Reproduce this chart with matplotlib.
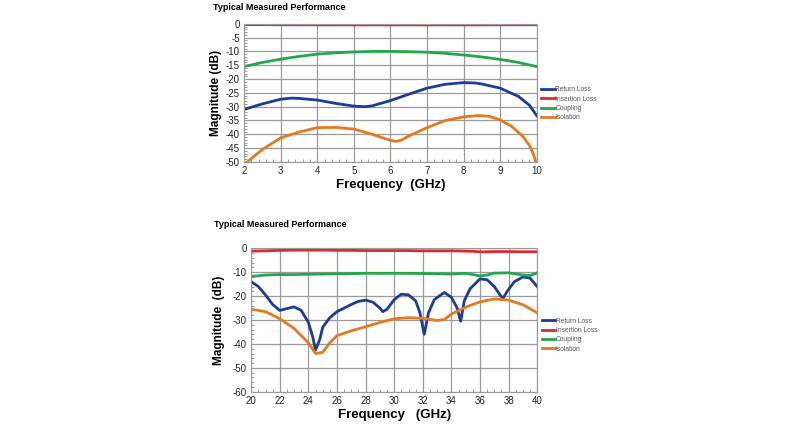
import matplotlib
matplotlib.use("Agg")
import matplotlib.pyplot as plt
from matplotlib.ticker import MultipleLocator

plt.rcParams['font.family'] = ['Liberation Sans', 'DejaVu Sans']
plt.rcParams['axes.unicode_minus'] = False

# ---------- Top chart data (2-10 GHz) ----------
f1 = [2, 2.5, 3, 3.3, 3.5, 4, 4.5, 5, 5.3, 5.5, 6, 6.5, 7, 7.5, 8, 8.3, 8.5, 9, 9.5, 9.8, 10]
rl1 = [-31, -29, -27.3, -26.9, -27, -27.6, -28.8, -29.8, -30, -29.7, -27.8, -25.5, -23.3, -21.9, -21.3, -21.4, -21.8, -23.3, -26.3, -29.5, -33.3]
f1b = [2, 2.5, 3, 3.5, 4, 4.5, 5, 5.5, 6, 6.5, 7, 7.5, 8, 8.5, 9, 9.5, 10]
il1 = [-0.3, -0.3, -0.35, -0.35, -0.4, -0.4, -0.4, -0.4, -0.4, -0.4, -0.4, -0.4, -0.4, -0.4, -0.35, -0.35, -0.35]
cp1 = [-15.5, -14, -12.8, -11.8, -11, -10.5, -10.2, -10, -10, -10.1, -10.3, -10.7, -11.3, -12, -12.9, -14, -15.5]
f1c = [2, 2.5, 3, 3.5, 4, 4.5, 5, 5.5, 6, 6.15, 6.3, 6.5, 7, 7.5, 8, 8.4, 8.7, 9, 9.3, 9.6, 9.8, 9.9, 10]
iso1 = [-51, -45.5, -41.3, -39.2, -37.6, -37.5, -38.1, -40, -42.2, -42.6, -42.1, -40.6, -37.6, -35, -33.7, -33.2, -33.5, -34.8, -37, -40.5, -44, -47, -51]

# ---------- Bottom chart data (20-40 GHz) ----------
f2 = [20, 20.5, 21, 21.5, 22, 22.5, 23, 23.5, 24, 24.3, 24.5, 24.8, 25, 25.5, 26, 26.5, 27, 27.5, 28,
      28.5, 29, 29.2, 29.5, 30, 30.5, 31, 31.5, 31.8, 32.1, 32.4, 32.8, 33.5, 34, 34.4, 34.65, 34.9,
      35.3, 36, 36.5, 37, 37.4, 37.6, 37.9, 38.4, 39, 39.5, 40]
rl2 = [-14, -16, -19.5, -23.5, -26, -25.2, -24.5, -26, -31, -37, -42.5, -38, -33, -29, -26.5, -25, -23.5, -22.2, -21.7,
       -22.5, -25, -26.5, -25.5, -21.5, -19.2, -19.5, -22, -27, -36, -27, -21.5, -18.5, -20.5, -25, -30.5, -22,
       -17, -12.8, -13.2, -16, -19.5, -21, -18, -14, -12, -12.5, -16]
f2b = [20, 21, 22, 23, 24, 25, 26, 27, 28, 29, 30, 31, 32, 33, 34, 35, 35.5, 36, 36.5, 37, 38, 39, 39.5, 40]
il2 = [-1.2, -1.1, -0.9, -0.8, -0.8, -0.8, -0.9, -0.9, -1.0, -1.0, -1.0, -1.0, -1.1, -1.1, -1.1, -1.2, -1.3, -1.5, -1.5, -1.4, -1.4, -1.5, -1.5, -1.5]
cp2 = [-11.8, -11.2, -11, -11, -10.9, -10.8, -10.7, -10.6, -10.5, -10.5, -10.5, -10.5, -10.6, -10.7, -10.8, -10.5, -11, -11.6, -11.2, -10.4, -10.3, -11.2, -11.4, -10.3]
f2c = [20, 21, 22, 23, 24, 24.5, 25, 25.5, 26, 27, 28, 29, 30, 31, 32, 33, 33.5, 34, 35, 36, 37, 38, 39, 40]
iso2 = [-25.5, -26.5, -29.5, -33.5, -39.5, -44, -43.5, -39.5, -36.5, -34.5, -32.8, -31, -29.5, -29, -29.3, -30.2, -29.8, -27.5, -24.6, -22.4, -21.2, -21.7, -23.6, -27]

series_names = ["Return Loss", "Insertion Loss", "Coupling", "Isolation"]
colors = ["#1c3c9c", "#e4262c", "#22a84a", "#e8791e"]
title = "Typical Measured Performance"

fig = plt.figure(figsize=(8, 4.25), dpi=100)

def style(ax, xmaj, xmin, ymaj, ymin):
    ax.xaxis.set_major_locator(MultipleLocator(xmaj))
    ax.xaxis.set_minor_locator(MultipleLocator(xmin))
    ax.yaxis.set_major_locator(MultipleLocator(ymaj))
    ax.yaxis.set_minor_locator(MultipleLocator(ymin))
    ax.grid(True, which='major', color='#9a9a9a', lw=0.9)
    for s in ax.spines.values():
        s.set_color('#9a9a9a')
    ax.tick_params(which='major', length=0, labelsize=7, pad=3, labelcolor='#222222')
    ax.tick_params(which='minor', direction='in', length=2, color='#888888')
    ax.set_axisbelow(True)

# Top
ax1 = fig.add_axes([0.305, 0.619, 0.366, 0.325])
ax1.plot(f1, rl1, color=colors[0], lw=2, label=series_names[0])
ax1.plot(f1b, il1, color=colors[1], lw=2, label=series_names[1])
ax1.plot(f1b, cp1, color=colors[2], lw=2, label=series_names[2])
ax1.plot(f1c, iso1, color=colors[3], lw=2, label=series_names[3])
ax1.set_xlim(2, 10)
ax1.set_ylim(-50, 0)
style(ax1, 1, 0.2, 5, 1)
ax1.set_xlabel("Frequency  (GHz)", fontsize=9.5, fontweight='bold', labelpad=2)
ax1.set_ylabel("Magnitude (dB)", fontsize=8.5, fontweight='bold', labelpad=3)
fig.text(0.266, 0.982, title, fontsize=6.5, fontweight='bold', va='center', ha='left')
leg1 = ax1.legend(loc='upper left', bbox_to_anchor=(1.0, 0.58), frameon=False, fontsize=4.8,
                  handlelength=2.0, handletextpad=0.1, labelspacing=0.35, borderaxespad=0.3)
for t in leg1.get_texts():
    t.set_color('#555555')

# Bottom
ax2 = fig.add_axes([0.314, 0.078, 0.3575, 0.338])
ax2.plot(f2, rl2, color=colors[0], lw=2, label=series_names[0])
ax2.plot(f2b, il2, color=colors[1], lw=2, label=series_names[1])
ax2.plot(f2b, cp2, color=colors[2], lw=2, label=series_names[2])
ax2.plot(f2c, iso2, color=colors[3], lw=2, label=series_names[3])
ax2.set_xlim(20, 40)
ax2.set_ylim(-60, 0)
style(ax2, 2, 0.5, 10, 2)
ax2.set_xlabel("Frequency   (GHz)", fontsize=9.5, fontweight='bold', labelpad=2)
ax2.set_ylabel("Magnitude  (dB)", fontsize=8.5, fontweight='bold', labelpad=6)
fig.text(0.268, 0.471, title, fontsize=6.5, fontweight='bold', va='center', ha='left')
leg2 = ax2.legend(loc='upper left', bbox_to_anchor=(1.0, 0.55), frameon=False, fontsize=4.8,
                  handlelength=2.0, handletextpad=0.1, labelspacing=0.35, borderaxespad=0.3)
for t in leg2.get_texts():
    t.set_color('#555555')

fig.savefig("out.png", dpi=100)
